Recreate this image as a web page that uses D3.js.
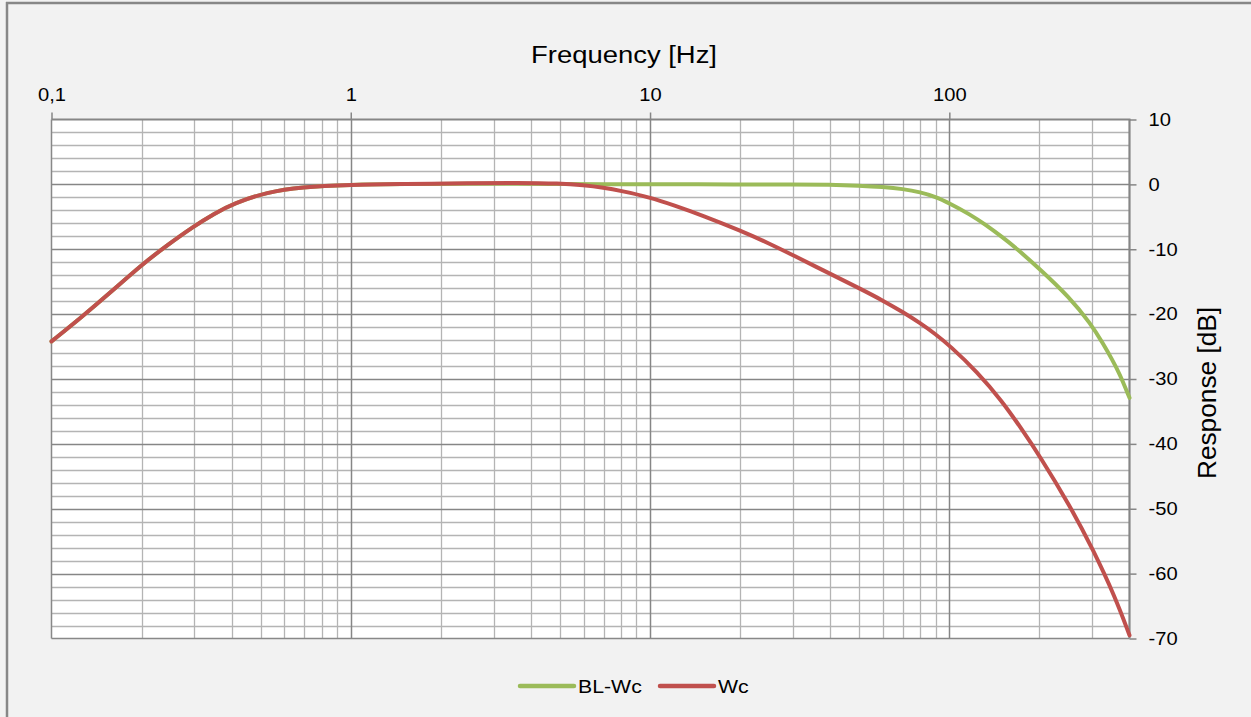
<!DOCTYPE html>
<html>
<head>
<meta charset="utf-8">
<script src="https://cdn.jsdelivr.net/npm/d3@7"></script>
<style>
  html, body { margin: 0; padding: 0; background: #f2f2f2; }
  svg { display: block; }
  text { font-family: "Liberation Sans", Arial, sans-serif; fill: #000; }
</style>
</head>
<body>
<svg id="chart" width="1251" height="717"></svg>
<script>
// ---- Data ----
const seriesNames = ["BL-Wc", "Wc"];
const seriesColors = ["#9bbb59", "#c0504d"];

const freqBL = [0.1, 0.125, 0.157, 0.2, 0.243, 0.3, 0.35, 0.407, 0.526, 0.68, 1, 1.5, 2.5, 3.6, 5, 7, 10, 20, 30, 40, 50, 60, 70, 80, 90, 100, 117, 132, 150, 167, 200, 252, 297, 326, 350, 370, 400];
const dbBL   = [-24.2, -20.6, -16.7, -12.4, -9.4, -6.4, -4.5, -2.9, -1.2, -0.4, -0.05, 0.05, 0.1, 0.1, 0.05, 0.02, 0, 0, 0, -0.05, -0.2, -0.4, -0.7, -1.2, -1.9, -2.9, -4.6, -6.2, -8.1, -9.8, -13.0, -17.4, -21.5, -24.5, -27.0, -29.1, -32.9];

const freqWc = [0.1, 0.125, 0.157, 0.2, 0.243, 0.3, 0.35, 0.407, 0.526, 0.68, 1, 1.5, 2.5, 3.6, 5, 6, 7, 8, 10, 12, 15, 20, 25, 30, 40, 50, 60, 70, 80, 90, 100, 124, 150, 175, 200, 252, 303, 358, 400];
const dbWc   = [-24.2, -20.6, -16.7, -12.4, -9.4, -6.4, -4.5, -2.9, -1.2, -0.4, -0.05, 0.05, 0.2, 0.25, 0.15, -0.1, -0.5, -1.0, -2.0, -3.2, -4.8, -7.1, -9.1, -10.9, -13.8, -16.0, -17.9, -19.7, -21.4, -23.1, -24.8, -28.9, -33.4, -37.8, -41.8, -49.4, -56.4, -63.6, -69.5];

const xTickValues = [0.1, 1, 10, 100];
const xTickLabels = ["0,1", "1", "10", "100"];
const yTickValues = [10, 0, -10, -20, -30, -40, -50, -60, -70];
const yTickLabels = ["10", "0", "-10", "-20", "-30", "-40", "-50", "-60", "-70"];

const xTitle = "Frequency [Hz]";
const yTitle = "Response [dB]";

// ---- Layout ----
const svg = d3.select("#chart");
const L = 51.5, R = 1129.5, T = 119.5, B = 638.5;
const STRETCH = 1.12;

const x = d3.scaleLog().domain([0.1, 400]).range([L, R]);
const y = d3.scaleLinear().domain([-70, 10]).range([B, T]);

// outer frame
svg.append("rect").attr("width", 1251).attr("height", 717).attr("fill", "#f2f2f2");
svg.append("line").attr("x1", 7).attr("x2", 7).attr("y1", 2).attr("y2", 717)
   .attr("stroke", "#878787").attr("stroke-width", 2.5);
svg.append("line").attr("x1", 6).attr("x2", 1251).attr("y1", 3).attr("y2", 3)
   .attr("stroke", "#878787").attr("stroke-width", 2.5);

// plot background
svg.append("rect").attr("x", L).attr("y", T).attr("width", R - L).attr("height", B - T).attr("fill", "#fff");

const grid = svg.append("g");
// minor vertical
const minorX = [];
[0.1, 1, 10, 100].forEach(d => { for (let k = 2; k <= 9; k++) { const v = d * k; if (v < 400) minorX.push(v); } });
grid.selectAll("line.mx").data(minorX).join("line")
  .attr("x1", d => Math.round(x(d)) + 0.5).attr("x2", d => Math.round(x(d)) + 0.5)
  .attr("y1", T).attr("y2", B).attr("stroke", "#b4b4b4").attr("stroke-width", 1.3);
// minor horizontal
const minorY = d3.range(-68, 10, 2).filter(v => v % 10 !== 0);
grid.selectAll("line.my").data(minorY).join("line")
  .attr("x1", L).attr("x2", R)
  .attr("y1", d => Math.round(y(d)) + 0.5).attr("y2", d => Math.round(y(d)) + 0.5)
  .attr("stroke", "#b4b4b4").attr("stroke-width", 1.3);
// major horizontal
grid.selectAll("line.My").data(d3.range(-60, 10, 10)).join("line")
  .attr("x1", L).attr("x2", R)
  .attr("y1", d => Math.round(y(d)) + 0.5).attr("y2", d => Math.round(y(d)) + 0.5)
  .attr("stroke", "#868686").attr("stroke-width", 1.5);
// major vertical
grid.selectAll("line.Mx").data([1, 10, 100]).join("line")
  .attr("x1", d => Math.round(x(d)) + 0.5).attr("x2", d => Math.round(x(d)) + 0.5)
  .attr("y1", T).attr("y2", B).attr("stroke", "#868686").attr("stroke-width", 1.5);

// plot borders
svg.append("line").attr("x1", L).attr("x2", L).attr("y1", T).attr("y2", B).attr("stroke", "#888").attr("stroke-width", 1.5);
svg.append("line").attr("x1", L).attr("x2", R).attr("y1", B).attr("y2", B).attr("stroke", "#888").attr("stroke-width", 1.5);
svg.append("line").attr("x1", L).attr("x2", R + 1).attr("y1", T).attr("y2", T).attr("stroke", "#868686").attr("stroke-width", 2.2);
svg.append("line").attr("x1", R).attr("x2", R).attr("y1", T).attr("y2", B).attr("stroke", "#868686").attr("stroke-width", 2.2);

// axes
const xAxis = d3.axisTop(x).tickValues(xTickValues)
  .tickFormat((d, i) => xTickLabels[i]).tickSize(7).tickPadding(12);
const gx = svg.append("g").attr("transform", `translate(0,${T})`).call(xAxis);
gx.select(".domain").remove();
gx.selectAll(".tick line").attr("stroke", "#868686").attr("stroke-width", 1.5);
gx.selectAll(".tick text").attr("font-size", 18).attr("fill", "#000")
  .attr("font-family", "Liberation Sans, Arial, sans-serif")
  .attr("transform", `scale(${STRETCH},1)`);

const yAxis = d3.axisRight(y).tickValues(yTickValues)
  .tickFormat((d, i) => yTickLabels[i]).tickSize(7).tickPadding(12);
const gy = svg.append("g").attr("transform", `translate(${R},0)`).call(yAxis);
gy.select(".domain").remove();
gy.selectAll(".tick line").attr("stroke", "#868686").attr("stroke-width", 1.5);
gy.selectAll(".tick text").attr("font-size", 18).attr("fill", "#000")
  .attr("font-family", "Liberation Sans, Arial, sans-serif")
  .attr("x", 17).attr("transform", `scale(${STRETCH},1)`);

// titles
svg.append("text").attr("transform", `translate(624,63) scale(${STRETCH},1)`)
  .attr("text-anchor", "middle").attr("font-size", 24.5).text(xTitle);
svg.append("text").attr("transform", `translate(1216,393) rotate(-90) scale(1.05,1)`)
  .attr("text-anchor", "middle").attr("font-size", 25).text(yTitle);

// series
const line = d3.line().x(d => x(d[0])).y(d => y(d[1])).curve(d3.curveBasis);
const seriesData = [
  d3.zip(freqBL, dbBL),
  d3.zip(freqWc, dbWc)
];
svg.append("g").selectAll("path").data(seriesData).join("path")
  .attr("d", line).attr("fill", "none")
  .attr("stroke", (d, i) => seriesColors[i]).attr("stroke-width", 4)
  .attr("stroke-linejoin", "round").attr("stroke-linecap", "round");

// legend
const legendX = [520, 660];
const lg = svg.append("g");
seriesNames.forEach((name, i) => {
  lg.append("line").attr("x1", legendX[i]).attr("x2", legendX[i] + 54)
    .attr("y1", 686).attr("y2", 686).attr("stroke", seriesColors[i]).attr("stroke-width", 4.5)
    .attr("stroke-linecap", "round");
  lg.append("text").attr("transform", `translate(${legendX[i] + 58},693) scale(${STRETCH},1)`)
    .attr("font-size", 19).text(name);
});
</script>
</body>
</html>
